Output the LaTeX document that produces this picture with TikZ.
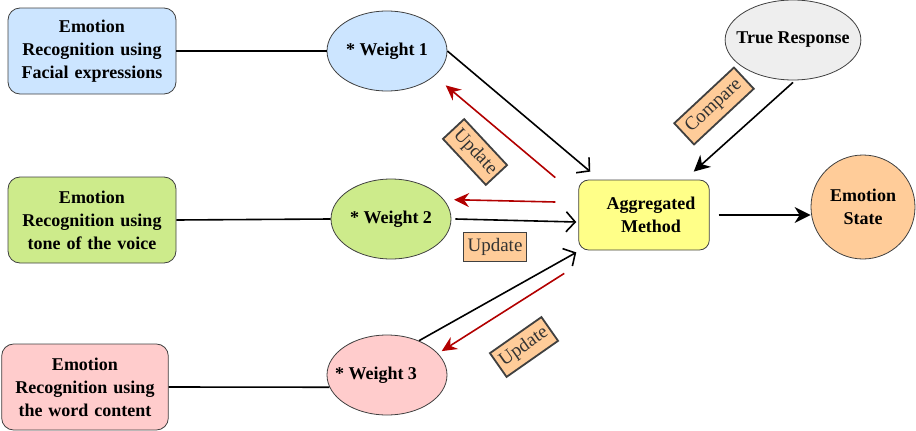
\documentclass[tikz,border=0pt]{standalone}
\usepackage{fontspec}
\setmainfont{Liberation Serif}
\usetikzlibrary{shapes.geometric,arrows.meta,positioning}
\definecolor{faceblue}{HTML}{CCE5FF}
\definecolor{voicegreen}{HTML}{CDEB8B}
\definecolor{wordpink}{HTML}{FFCCCC}
\definecolor{aggyellow}{HTML}{FFFF88}
\definecolor{stateorange}{HTML}{FFCC99}
\definecolor{truegrey}{HTML}{EEEEEE}
\definecolor{updred}{HTML}{B20000}
\begin{document}
\begin{tikzpicture}[x=1pt,y=-1pt,line width=1.6pt,
    every node/.style={font=\fontsize{18}{23}\selectfont\bfseries},
    srcbox/.style={rectangle,rounded corners=12pt,draw=black!75,line width=0.8pt,
      minimum width=168pt,minimum height=86pt,text width=160pt,align=center},
    wgt/.style={ellipse,draw=black!75,line width=0.8pt,minimum width=120pt,
      minimum height=80pt,inner sep=0pt},
    upd/.style={rectangle,draw=black!75,line width=1.8pt,fill=stateorange,
      font=\fontsize{19}{22}\selectfont,text=black!80,inner xsep=4pt,inner ysep=2pt,
      minimum height=29pt},
    feed/.style={-{Straight Barb[length=9pt,width=20pt]}},
    back/.style={draw=updred,-{Stealth[length=15pt,width=14pt,inset=5pt]}},
    solid/.style={-{Stealth[length=16pt,width=16pt,inset=5pt]}}]
  \useasboundingbox (0,0) rectangle (916,431);

  % sources
  \node[srcbox,style={fill=faceblue}] (face) at (92,51) {Emotion\\Recognition using\\Facial expressions};
  \node[srcbox,style={fill=voicegreen}] (voice) at (92,220) {Emotion\\Recognition using\\tone of the voice};
  \node[srcbox,style={fill=wordpink},minimum width=165pt] (word) at (85,387) {Emotion\\Recognition using\\the word content};

  % weights
  \node[wgt,style={fill=faceblue}] (w1) at (387,51) {* Weight 1};
  \node[wgt,style={fill=voicegreen}] (w2) at (391,219) {* Weight 2};
  \node[wgt,style={fill=wordpink}] (w3) at (387,375) {\hspace*{-22pt}* Weight 3};

  \node[rectangle,rounded corners=10pt,draw=black!75,line width=0.8pt,fill=aggyellow,
    minimum width=128pt,minimum height=70pt,text width=124pt,align=center] (agg) at (644,215)
    {\hspace*{14pt}Aggregated\\\hspace*{14pt}Method};
  \node[wgt,style={fill=truegrey}] (truth) at (793,40) {\makebox[96pt]{True Response}};
  \node[circle,draw=black!75,line width=0.8pt,fill=stateorange,minimum size=104pt,
    inner sep=0pt,align=center] (state) at (863,207) {Emotion\\State};

  % labels
  \node[upd,rotate=-47] (u1) at (475,152) {Update};
  \node[upd] (u2) at (495,247) {Update};
  \node[upd,rotate=35] (u3) at (524,347) {Update};
  \node[upd,rotate=43,inner xsep=6pt] (cmp) at (714,106) {Compare};

  % links
  \draw (face.east) -- (w1.west);
  \draw (voice.east) -- (w2.west);
  \draw (word.east) -- (w3.192);

  \draw[feed] (w1.east) -- ([xshift=12pt,yshift=8pt]agg.north west);
  \draw[feed] ([xshift=4pt]w2.east) -- ([xshift=-2pt,yshift=-7pt]agg.west);
  \draw[feed] (w3.47) -- ([xshift=-2pt,yshift=-2pt]agg.south west);

  \draw[back] ([xshift=-23pt,yshift=2pt]agg.north west) -- ([xshift=13pt,yshift=-8pt]w1.-30);
  \draw[back] ([xshift=-23pt,yshift=13pt]agg.west) -- ([xshift=10pt]w2.20);
  \draw[back] ([xshift=-14pt,yshift=-23pt]agg.south west) -- ([xshift=3pt,yshift=3pt]w3.22);

  \draw[solid] ([yshift=-2pt]truth.south) -- ([xshift=-16pt,yshift=8pt]agg.north east);
  \draw[solid] ([xshift=9pt]agg.east) -- (state.west |- agg.east);
\end{tikzpicture}
\end{document}
